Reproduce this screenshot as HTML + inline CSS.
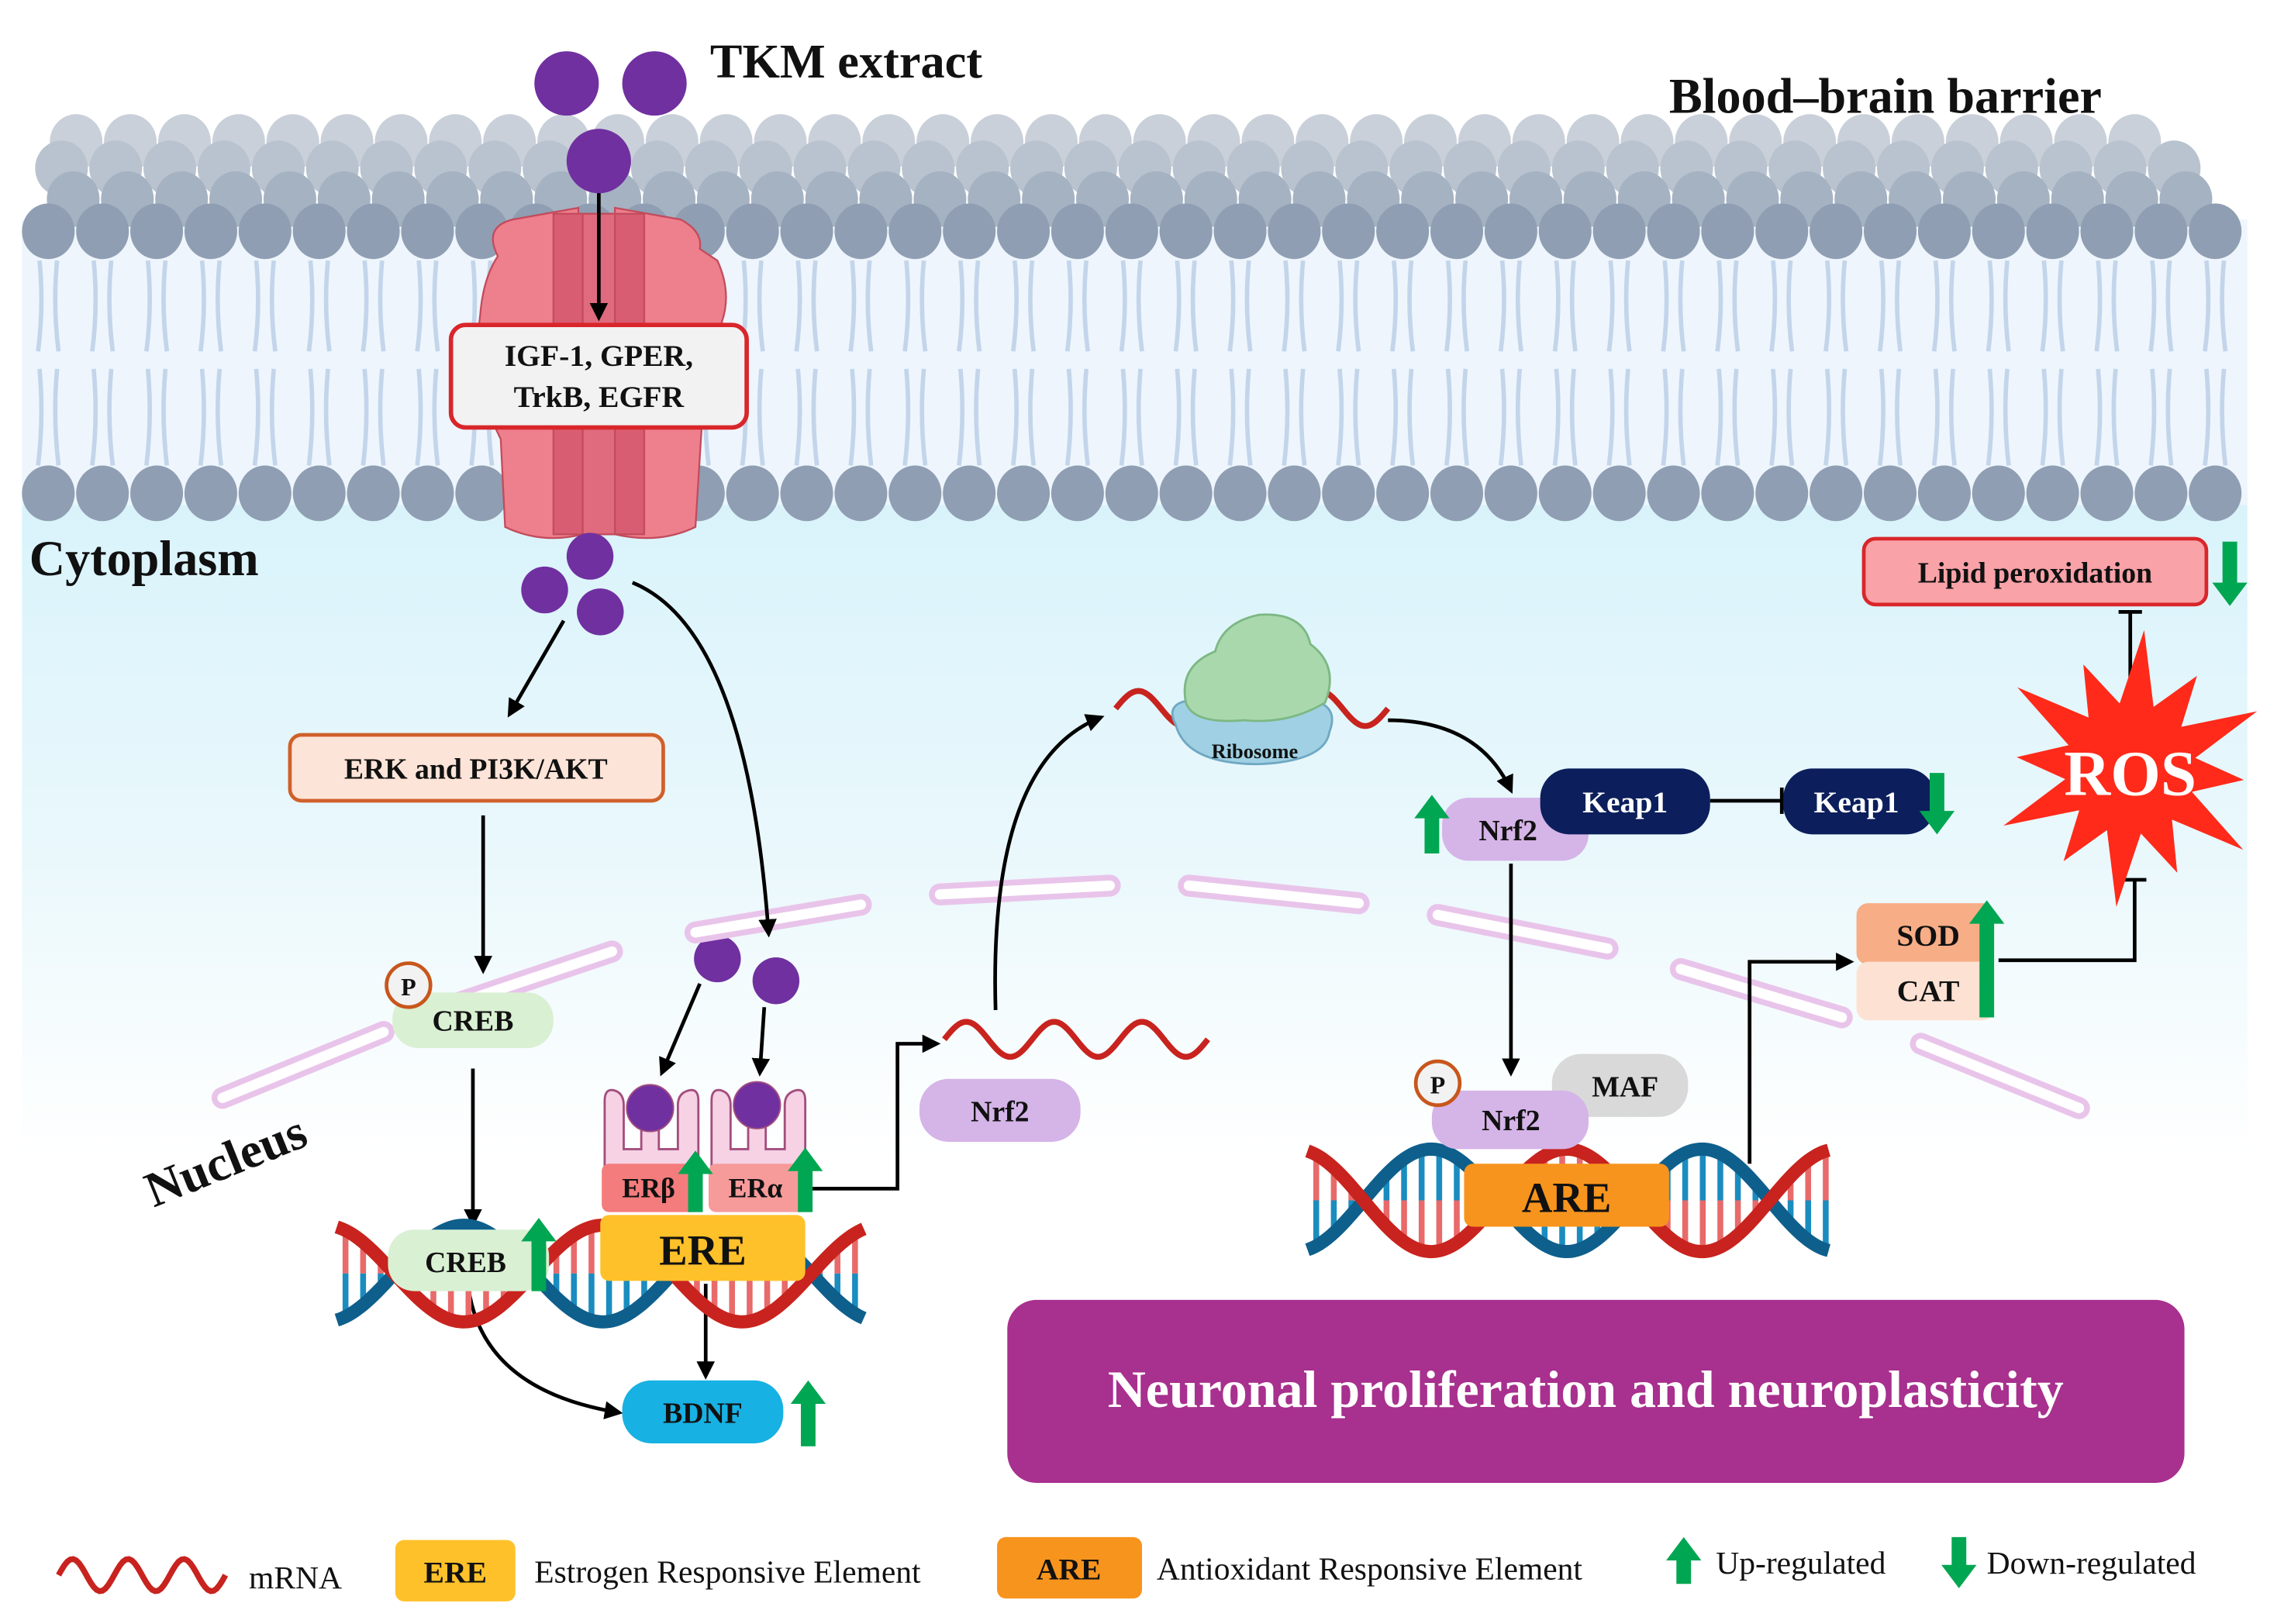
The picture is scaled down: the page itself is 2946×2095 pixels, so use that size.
<!DOCTYPE html>
<html><head><meta charset="utf-8">
<style>
html,body{margin:0;padding:0;background:#fff;}
svg{display:block;}
text{font-family:"Liberation Serif",serif;font-weight:bold;fill:#111;}
</style></head>
<body>
<svg id="s" xmlns="http://www.w3.org/2000/svg" width="2946" height="2095" viewBox="0 0 1560 1109.4" preserveAspectRatio="none">
<defs>
<linearGradient id="cyto" x1="0" y1="0" x2="0" y2="1">
<stop offset="0" stop-color="#d9f3fb"/><stop offset="0.55" stop-color="#eaf8fc"/><stop offset="1" stop-color="#ffffff"/>
</linearGradient>
<marker id="ah" viewBox="0 0 10 10" refX="8" refY="5" markerWidth="5" markerHeight="5" orient="auto"><path d="M0,0 L10,5 L0,10 z" fill="#000"/></marker>
</defs>
<rect x="15" y="340" width="1520" height="450" fill="url(#cyto)"/>
<rect x="15" y="150" width="1520" height="195" fill="#eef5fc"/>
<g id="mem"></g>
<g stroke="#c24b5c" stroke-width="1.2">
<path d="M340,175 Q330,155 350,150 L395,142 L398,365 Q370,372 345,360 L342,300 Q322,260 328,215 Q330,190 340,175z" fill="#ee7f8c"/>
<path d="M420,142 L465,150 Q480,158 478,170 L490,178 Q500,200 493,220 Q500,250 480,280 L475,360 Q450,372 420,365z" fill="#ee7f8c"/>
<path d="M378,146 L440,146 L440,365 L378,365z" fill="#d95d72"/>
<path d="M398,146 L420,146 L420,365 L398,365z" fill="#e06b7e"/>
</g>
<line x1="409" y1="125" x2="409" y2="217" stroke="#000" stroke-width="2.5" marker-end="url(#ah)"/>
<rect x="308" y="222" width="202" height="70" rx="10" fill="#f2f2f2" stroke="#d9262a" stroke-width="3"/>
<text x="409" y="250" font-size="21" text-anchor="middle">IGF-1, GPER,</text>
<text x="409" y="278" font-size="21" text-anchor="middle">TrkB, EGFR</text>
<g fill="#7030a0">
<circle cx="387" cy="57" r="22"/><circle cx="447" cy="57" r="22"/><circle cx="409" cy="110" r="22"/>
<circle cx="403" cy="380" r="16"/><circle cx="372" cy="403" r="16"/><circle cx="410" cy="418" r="16"/>
<circle cx="490" cy="655" r="16"/><circle cx="530" cy="670" r="16"/>
</g>
<text x="485" y="53" font-size="33">TKM extract</text>
<text x="1140" y="77" font-size="34">Blood–brain barrier</text>
<text x="20" y="393" font-size="34">Cytoplasm</text>
<text x="0" y="0" font-size="34" transform="translate(105,825) rotate(-22)">Nucleus</text>
<g id="env" stroke-linecap="round"></g>
<g stroke="#000" stroke-width="2.5" fill="none" marker-end="url(#ah)">
<line x1="385" y1="424" x2="348" y2="488"/>
<path d="M432,398 Q510,430 525,638"/>
<line x1="330" y1="557" x2="330" y2="663"/>
<line x1="323" y1="730" x2="323" y2="836"/>
<line x1="478" y1="672" x2="452" y2="733"/>
<line x1="522" y1="688" x2="519" y2="733"/>
<polyline points="550,812 613,812 613,713 640,713"/>
<line x1="482" y1="877" x2="482" y2="940"/>
<path d="M320,880 Q330,950 423,965"/>
<path d="M680,690 Q675,520 752,490"/>
<path d="M948,492 Q1010,492 1032,540"/>
<line x1="1032" y1="590" x2="1032" y2="733"/>
<polyline points="1195,795 1195,657 1264,657"/>
</g>
<g stroke="#000" stroke-width="2.5" fill="none">
<line x1="1168" y1="547" x2="1217" y2="547"/><line x1="1217" y1="538" x2="1217" y2="556"/>
<polyline points="1365,656 1458,656 1458,601"/><line x1="1450" y1="601" x2="1466" y2="601"/>
<line x1="1455" y1="470" x2="1455" y2="418"/><line x1="1447" y1="418" x2="1463" y2="418"/>
</g>
<g id="dna"></g>
<rect x="198" y="502" width="255" height="45" rx="8" fill="#fde4d8" stroke="#d0602a" stroke-width="2.5"/>
<text x="325" y="532" font-size="20" text-anchor="middle">ERK and PI3K/AKT</text>
<rect x="268" y="678" width="110" height="38" rx="18" fill="#d9f0d3"/>
<text x="323" y="704" font-size="20" text-anchor="middle">CREB</text>
<circle cx="279" cy="673" r="15" fill="#f2f2f2" stroke="#c8561c" stroke-width="2.5"/>
<text x="279" y="680" font-size="17" text-anchor="middle">P</text>
<g fill="#f6d2e4" stroke="#a34e7e" stroke-width="1.5">
<path d="M413,800 L413,752 Q413,743 420,745 Q426,747 426,755 L426,785 L438,785 L438,770 L450,770 L450,785 L463,785 L463,755 Q463,747 470,745 Q477,743 477,752 L477,800z"/>
<path d="M486,800 L486,752 Q486,743 493,745 Q499,747 499,755 L499,785 L511,785 L511,770 L523,770 L523,785 L536,785 L536,755 Q536,747 543,745 Q550,743 550,752 L550,800z"/>
</g>
<circle cx="444" cy="757" r="16" fill="#7030a0" stroke="#a34e7e"/>
<circle cx="517" cy="755" r="16" fill="#7030a0" stroke="#a34e7e"/>
<rect x="411" y="795" width="67" height="33" rx="5" fill="#f47c7c"/>
<rect x="484" y="795" width="67" height="33" rx="5" fill="#f79a9a"/>
<text x="443" y="818" font-size="19" text-anchor="middle">ERβ</text>
<text x="516" y="818" font-size="19" text-anchor="middle">ERα</text>
<rect x="410" y="830" width="140" height="45" rx="6" fill="#ffc12a"/>
<text x="480" y="864" font-size="29" text-anchor="middle">ERE</text>
<rect x="265" y="840" width="110" height="42" rx="18" fill="#d9f0d3"/>
<text x="318" y="869" font-size="20" text-anchor="middle">CREB</text>
<rect x="425" y="943" width="110" height="43" rx="20" fill="#17b1e3"/>
<text x="480" y="972" font-size="20" text-anchor="middle">BDNF</text>
<g id="waves" fill="none" stroke="#c8231e" stroke-width="4"></g>
<rect x="628" y="737" width="110" height="43" rx="20" fill="#d5b4e8"/>
<text x="683" y="766" font-size="20" text-anchor="middle">Nrf2</text>
<path d="M803,495 Q795,480 815,478 L895,478 Q915,482 908,500 Q905,520 860,522 Q810,522 803,495z" fill="#9fd0e3" stroke="#6fa8c2" stroke-width="1.5"/>
<path d="M810,480 Q805,455 830,445 Q835,425 860,420 Q890,418 895,440 Q915,455 905,480 Q880,495 850,492 Q815,495 810,480z" fill="#a9d8ad" stroke="#7db883" stroke-width="1.5"/>
<text x="857" y="518" font-size="14" text-anchor="middle">Ribosome</text>
<rect x="985" y="545" width="100" height="43" rx="18" fill="#d5b4e8"/>
<text x="1030" y="574" font-size="20" text-anchor="middle">Nrf2</text>
<rect x="1052" y="525" width="116" height="45" rx="20" fill="#0c1f5c"/>
<text x="1110" y="555" font-size="21" text-anchor="middle" style="fill:#fff">Keap1</text>
<rect x="1218" y="525" width="104" height="45" rx="20" fill="#0c1f5c"/>
<text x="1268" y="555" font-size="21" text-anchor="middle" style="fill:#fff">Keap1</text>
<rect x="1060" y="720" width="93" height="43" rx="20" fill="#d9d9d9"/>
<text x="1110" y="749" font-size="20" text-anchor="middle">MAF</text>
<rect x="978" y="745" width="107" height="40" rx="18" fill="#d5b4e8"/>
<text x="1032" y="772" font-size="20" text-anchor="middle">Nrf2</text>
<circle cx="982" cy="740" r="15" fill="#f2f2f2" stroke="#c8561c" stroke-width="2.5"/>
<text x="982" y="747" font-size="17" text-anchor="middle">P</text>
<rect x="1000" y="795" width="140" height="43" rx="6" fill="#f7941d"/>
<text x="1070" y="828" font-size="29" text-anchor="middle">ARE</text>
<rect x="1268" y="617" width="94" height="42" rx="8" fill="#f7ad86"/>
<rect x="1268" y="657" width="94" height="40" rx="8" fill="#fde2d3"/>
<text x="1317" y="646" font-size="21" text-anchor="middle">SOD</text>
<text x="1317" y="684" font-size="21" text-anchor="middle">CAT</text>
<polygon id="ros" fill="#ff2a1a"/>
<text x="1455" y="543" font-size="44" text-anchor="middle" style="fill:#fff">ROS</text>
<rect x="1273" y="368" width="234" height="45" rx="8" fill="#f9a2a8" stroke="#d9262a" stroke-width="2.5"/>
<text x="1390" y="398" font-size="20" text-anchor="middle">Lipid peroxidation</text>
<rect x="688" y="888" width="804" height="125" rx="20" fill="#a8308e"/>
<text x="1083" y="961" font-size="36" text-anchor="middle" style="fill:#fff">Neuronal proliferation and neuroplasticity</text>
<rect x="270" y="1052" width="82" height="42" rx="6" fill="#ffc12a"/>
<text x="311" y="1081" font-size="21" text-anchor="middle">ERE</text>
<rect x="681" y="1050" width="99" height="42" rx="6" fill="#f7941d"/>
<text x="730" y="1079" font-size="21" text-anchor="middle">ARE</text>
<text x="170" y="1085" font-size="22" style="font-weight:normal">mRNA</text>
<text x="365" y="1081" font-size="22" style="font-weight:normal">Estrogen Responsive Element</text>
<text x="790" y="1079" font-size="22" style="font-weight:normal">Antioxidant Responsive Element</text>
<text x="1172" y="1075" font-size="22" style="font-weight:normal">Up-regulated</text>
<text x="1357" y="1075" font-size="22" style="font-weight:normal">Down-regulated</text>
<g id="garrows" fill="#00a651"></g>
</svg>
<script>
var NS="http://www.w3.org/2000/svg";
function el(p,t,a){var e=document.createElementNS(NS,t);for(var k in a)e.setAttribute(k,a[k]);p.appendChild(e);return e;}
var mem=document.getElementById('mem');
var rows=[[97,'#cad0d9',52,1480],[115,'#b9c3cf',42,1500],[136,'#a5b2c2',50,1505],[158,'#8f9eb2',33,1525]];
for(var x=33;x<1530;x+=37){
 [[178,240],[252,318]].forEach(function(r){
  el(mem,'path',{d:'M'+(x-6)+','+r[0]+' Q'+(x-3)+','+((r[0]+r[1])/2)+' '+(x-7)+','+r[1]+' M'+(x+6)+','+r[0]+' Q'+(x+3)+','+((r[0]+r[1])/2)+' '+(x+7)+','+r[1],stroke:'#c3d5ea','stroke-width':3,fill:'none'});
 });
}
rows.forEach(function(r){for(var x=r[2];x<r[3];x+=37)el(mem,'ellipse',{cx:x,cy:r[0],rx:18,ry:19,fill:r[1]});});
for(var x=33;x<1530;x+=37)el(mem,'ellipse',{cx:x,cy:337,rx:18,ry:19,fill:'#8f9eb2'});
var env=document.getElementById('env');
[[152,750,262,705],[305,688,418,650],[475,637,588,618],[642,611,758,605],[812,605,928,617],[982,625,1098,648],[1148,662,1258,695],[1312,713,1420,757]].forEach(function(s){
 el(env,'line',{x1:s[0],y1:s[1],x2:s[2],y2:s[3],stroke:'#e9c4ea','stroke-width':15});
 el(env,'line',{x1:s[0],y1:s[1],x2:s[2],y2:s[3],stroke:'#fff','stroke-width':7});
});
var dna=document.getElementById('dna');
function drawDNA(x0,x1,cy,A,P,ph){
 for(var x=x0+6;x<x1;x+=12){
  var y1=cy+A*Math.sin((x-x0)/P*2*Math.PI+ph), y2=cy-A*Math.sin((x-x0)/P*2*Math.PI+ph);
  var m=(y1+y2)/2;
  el(dna,'line',{x1:x,y1:y1,x2:x,y2:m,stroke:'#e86a6a','stroke-width':4});
  el(dna,'line',{x1:x,y1:m,x2:x,y2:y2,stroke:'#1b8cbf','stroke-width':4});
 }
 var d1='',d2='';
 for(var x=x0;x<=x1;x+=2){
  var s=Math.sin((x-x0)/P*2*Math.PI+ph);
  d1+=(x==x0?'M':'L')+x+','+(cy+A*s);d2+=(x==x0?'M':'L')+x+','+(cy-A*s);
 }
 el(dna,'path',{d:d2,stroke:'#0e5f8c','stroke-width':9,fill:'none'});
 el(dna,'path',{d:d1,stroke:'#c8231e','stroke-width':9,fill:'none'});
}
drawDNA(230,590,870,33,190,-1.3);
drawDNA(893,1250,820,35,185,-1.3);
var w=document.getElementById('waves');
function wave(x0,x1,cy,A,P){var d='';for(var x=x0;x<=x1;x+=2){d+=(x==x0?'M':'L')+x+','+(cy-A*Math.sin((x-x0)/P*2*Math.PI));}el(w,'path',{d:d});}
wave(645,825,710,12,60);
wave(762,948,484,12,62);
wave(40,155,1076,11,38);
var pts=[],cx=1455,cy=525,n=12;
for(var i=0;i<n*2;i++){var a=i*Math.PI/n-Math.PI/2+0.1;var r=(i%2==0)?(i%4==0?95:78):45;pts.push((cx+r*Math.cos(a))+','+(cy+r*Math.sin(a)));}
document.getElementById('ros').setAttribute('points',pts.join(' '));
var g=document.getElementById('garrows');
function garrow(x,yt,yb,up){var hw=12,sw=5,hh=16;var d;
 if(up)d='M'+x+','+yt+' L'+(x+hw)+','+(yt+hh)+' L'+(x+sw)+','+(yt+hh)+' L'+(x+sw)+','+yb+' L'+(x-sw)+','+yb+' L'+(x-sw)+','+(yt+hh)+' L'+(x-hw)+','+(yt+hh)+'z';
 else d='M'+x+','+yb+' L'+(x+hw)+','+(yb-hh)+' L'+(x+sw)+','+(yb-hh)+' L'+(x+sw)+','+yt+' L'+(x-sw)+','+yt+' L'+(x-sw)+','+(yb-hh)+' L'+(x-hw)+','+(yb-hh)+'z';
 el(g,'path',{d:d});}
garrow(368,832,882,true);
garrow(475,786,828,true);
garrow(550,784,828,true);
garrow(552,943,988,true);
garrow(978,543,583,true);
garrow(1323,528,570,false);
garrow(1357,615,695,true);
garrow(1523,370,414,false);
garrow(1150,1050,1082,true);
garrow(1338,1050,1085,false);
</script>
</body></html>
